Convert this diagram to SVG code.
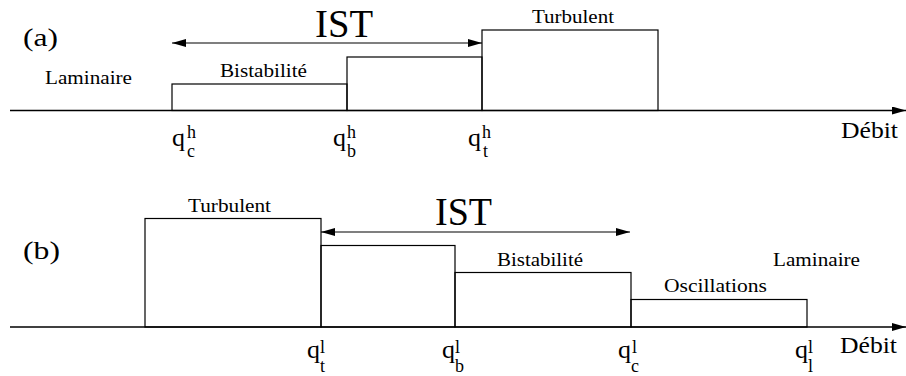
<svg xmlns="http://www.w3.org/2000/svg" width="906" height="376" viewBox="0 0 906 376" font-family="Liberation Serif, Times New Roman, Times, DejaVu Serif, serif">
<style>
.lab{font-size:19px}
.big{font-size:40px}
.pan{font-size:26px}
.deb{font-size:23px}
.q{font-size:26px}
.s{font-size:18px}
.box{fill:none;stroke:#000;stroke-width:1.2}
.axis{stroke:#000;stroke-width:1.5;fill:none}
.ist{stroke:#000;stroke-width:1.2;fill:none}
</style>
<defs>
<marker id="ah" viewBox="0 0 14 8" refX="14" refY="4" markerWidth="14" markerHeight="8" markerUnits="userSpaceOnUse" orient="auto-start-reverse">
<path d="M0,0 L14,4 L0,8 Z" fill="#000"/>
</marker>
</defs>
<rect width="906" height="376" fill="#fff"/>

<g id="panel-a" font-family="Liberation Serif, Times New Roman, serif" fill="#000">
<text class="pan" font-family="Liberation Serif" x="23" y="46" textLength="35" lengthAdjust="spacingAndGlyphs">(a)</text>
<g id="a-laminaire"><text class="lab" font-family="Liberation Serif" x="45" y="84" textLength="87" lengthAdjust="spacingAndGlyphs">Laminaire</text></g>
<g id="a-bistabilite">
<rect class="box" x="172" y="84" width="175" height="26.5"/>
<text class="lab" font-family="Liberation Serif" x="220" y="77" textLength="87" lengthAdjust="spacingAndGlyphs">Bistabilité</text>
</g>
<g id="a-mid"><rect class="box" x="347" y="57" width="135" height="53.5"/></g>
<g id="a-turbulent">
<rect class="box" x="482" y="30" width="176" height="80.5"/>
<text class="lab" font-family="Liberation Serif" x="532" y="23" textLength="82" lengthAdjust="spacingAndGlyphs">Turbulent</text>
</g>
<text class="big" font-family="Liberation Serif" x="315" y="37" textLength="58" lengthAdjust="spacingAndGlyphs">IST</text>
<text class="deb" font-family="Liberation Serif" x="841" y="138" textLength="57" lengthAdjust="spacingAndGlyphs">Débit</text>
<g id="a-qc" font-family="Liberation Serif"><text class="q" x="172" y="146">q</text><text class="s" x="187" y="138">h</text><text class="s" x="187" y="157">c</text></g>
<g id="a-qb" font-family="Liberation Serif"><text class="q" x="333" y="146">q</text><text class="s" x="347" y="138">h</text><text class="s" x="347" y="157">b</text></g>
<g id="a-qt" font-family="Liberation Serif"><text class="q" x="468" y="146">q</text><text class="s" x="482" y="138">h</text><text class="s" x="483" y="157">t</text></g>
</g>

<g id="panel-b" font-family="Liberation Serif, Times New Roman, serif" fill="#000">
<text class="pan" font-family="Liberation Serif" x="23" y="259" textLength="37" lengthAdjust="spacingAndGlyphs">(b)</text>
<g id="b-turbulent">
<rect class="box" x="145" y="218.5" width="176" height="108.5"/>
<text class="lab" font-family="Liberation Serif" x="188" y="212" textLength="83" lengthAdjust="spacingAndGlyphs">Turbulent</text>
</g>
<g id="b-mid"><rect class="box" x="321" y="245.5" width="134" height="81.5"/></g>
<g id="b-bistabilite">
<rect class="box" x="455" y="272.5" width="176" height="54.5"/>
<text class="lab" font-family="Liberation Serif" x="497" y="266" textLength="86" lengthAdjust="spacingAndGlyphs">Bistabilité</text>
</g>
<g id="b-oscillations">
<rect class="box" x="631" y="299.5" width="176" height="27.5"/>
<text class="lab" font-family="Liberation Serif" x="664" y="292" textLength="103" lengthAdjust="spacingAndGlyphs">Oscillations</text>
</g>
<g id="b-laminaire"><text class="lab" font-family="Liberation Serif" x="773" y="266" textLength="87" lengthAdjust="spacingAndGlyphs">Laminaire</text></g>
<text class="big" font-family="Liberation Serif" x="435" y="225" textLength="57" lengthAdjust="spacingAndGlyphs">IST</text>
<text class="deb" font-family="Liberation Serif" x="840" y="353" textLength="57" lengthAdjust="spacingAndGlyphs">Débit</text>
<g id="b-qt" font-family="Liberation Serif"><text class="q" x="307" y="358">q</text><text class="s" x="320" y="353">l</text><text class="s" x="320" y="372">t</text></g>
<g id="b-qb" font-family="Liberation Serif"><text class="q" x="442" y="358">q</text><text class="s" x="455" y="353">l</text><text class="s" x="455" y="372">b</text></g>
<g id="b-qc" font-family="Liberation Serif"><text class="q" x="618" y="358">q</text><text class="s" x="632" y="353">l</text><text class="s" x="631" y="372">c</text></g>
<g id="b-ql" font-family="Liberation Serif"><text class="q" x="795" y="358">q</text><text class="s" x="808" y="353">l</text><text class="s" x="808" y="372">l</text></g>
</g>

<g id="connectors">
<line class="axis" x1="10" y1="110.5" x2="906" y2="110.5" marker-end="url(#ah)"/>
<line class="ist" x1="172" y1="43" x2="482" y2="43" marker-start="url(#ah)" marker-end="url(#ah)"/>
<line class="axis" x1="10" y1="327" x2="906" y2="327" marker-end="url(#ah)"/>
<line class="ist" x1="321" y1="232" x2="630" y2="232" marker-start="url(#ah)" marker-end="url(#ah)"/>
</g>
</svg>
